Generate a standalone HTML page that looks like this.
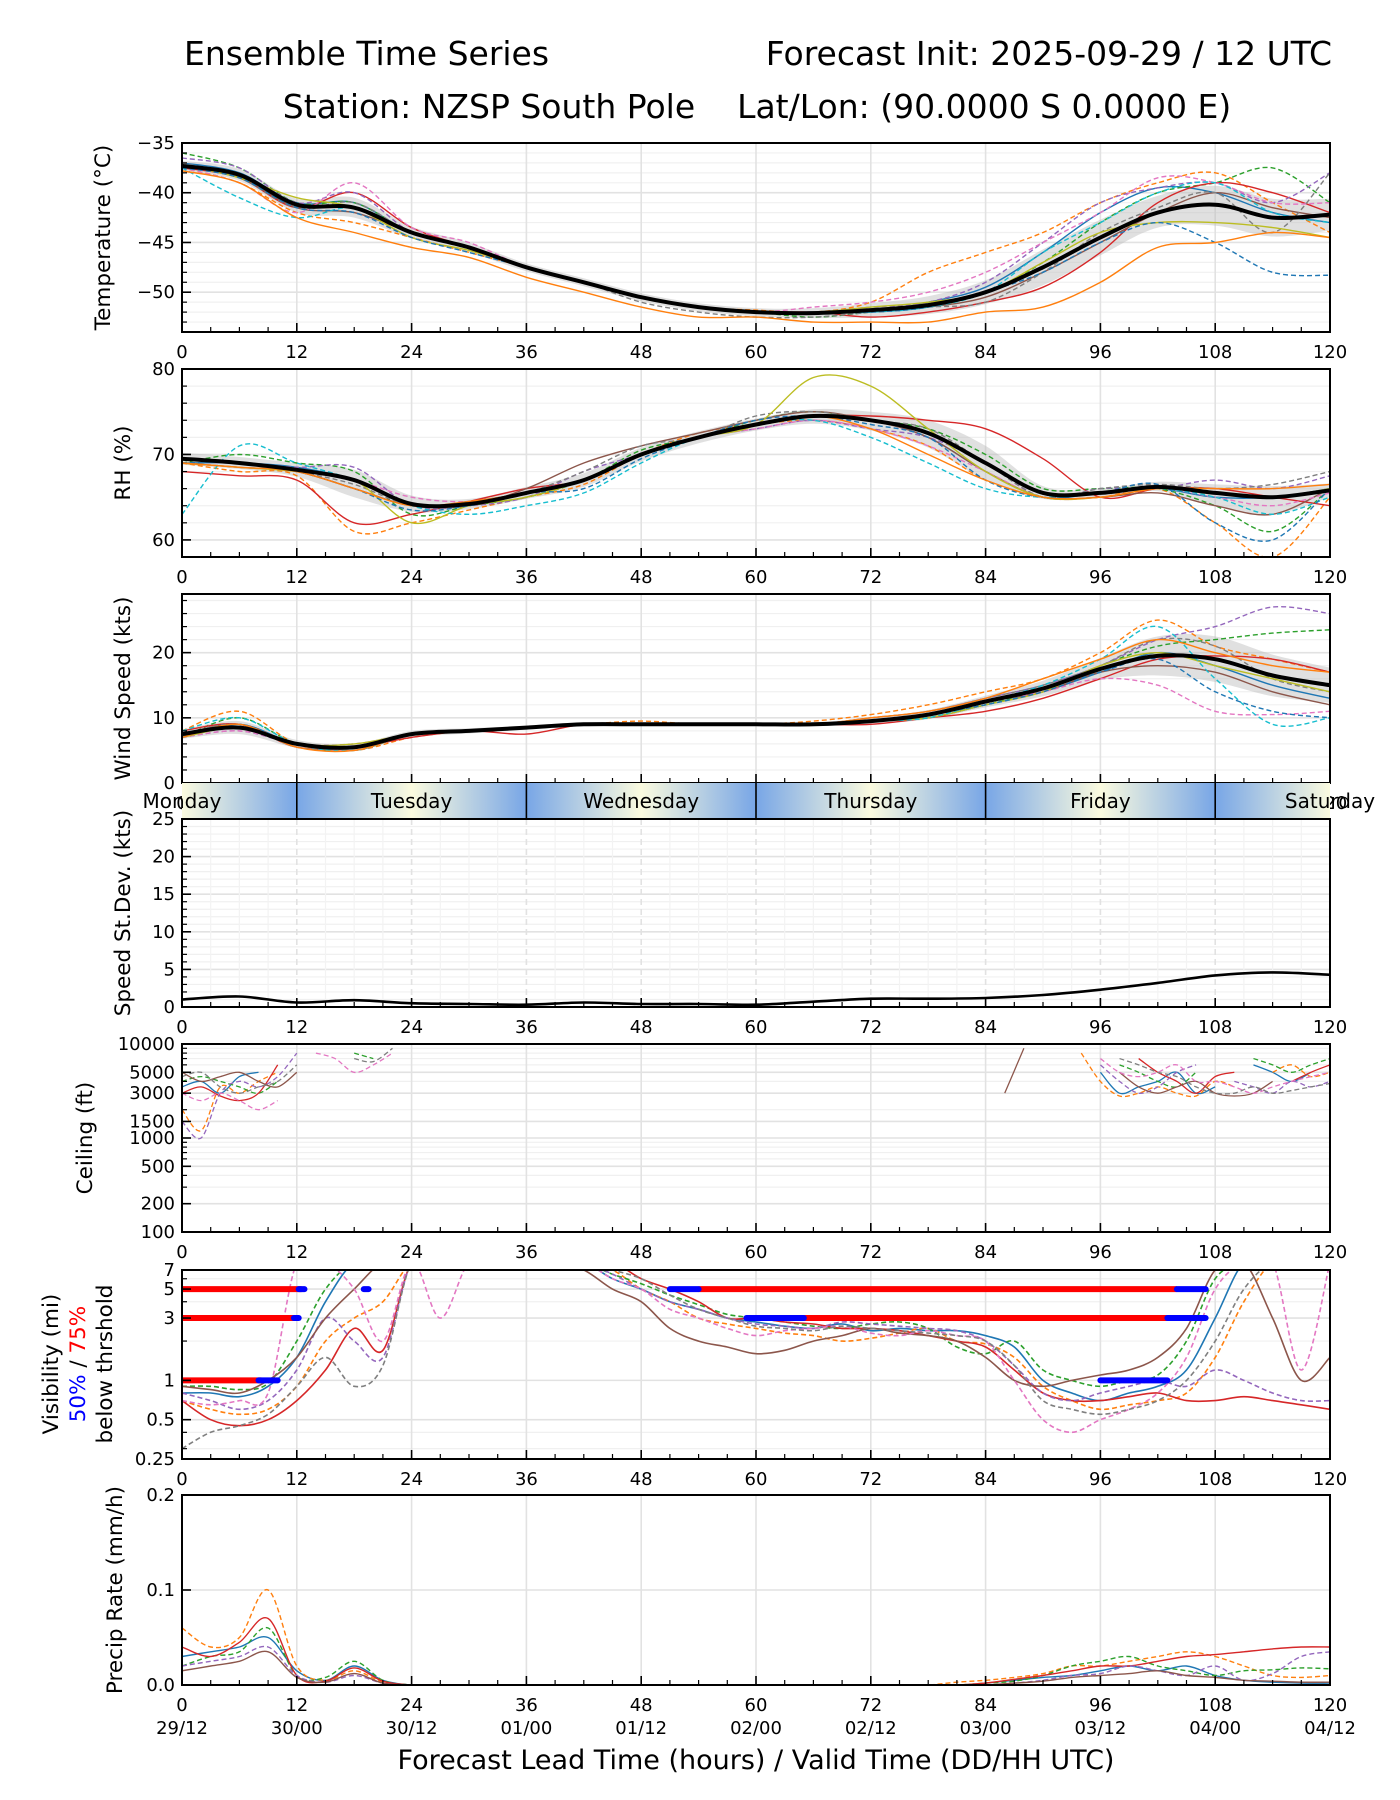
<!DOCTYPE html>
<html><head><meta charset="utf-8"><title>Ensemble Time Series</title>
<style>html,body{margin:0;padding:0;background:#fff}svg{display:block;font-family:"DejaVu Sans","Liberation Sans",sans-serif}</style>
</head><body>
<svg id="chart" xmlns="http://www.w3.org/2000/svg" width="1400" height="1800" viewBox="0 0 1400 1800">
<defs>
<linearGradient id="dayGrad" gradientUnits="userSpaceOnUse" x1="182" y1="0" x2="1330" y2="0">
<stop offset="0" stop-color="#fbfbdf"/><stop offset="0.1" stop-color="#78a6e6"/><stop offset="0.2" stop-color="#fbfbdf"/><stop offset="0.3" stop-color="#78a6e6"/><stop offset="0.4" stop-color="#fbfbdf"/><stop offset="0.5" stop-color="#78a6e6"/><stop offset="0.6" stop-color="#fbfbdf"/><stop offset="0.7" stop-color="#78a6e6"/><stop offset="0.8" stop-color="#fbfbdf"/><stop offset="0.9" stop-color="#78a6e6"/><stop offset="1" stop-color="#fbfbdf"/>
</linearGradient>
</defs>
<text x="184" y="65" font-size="33">Ensemble Time Series</text>
<text x="1332" y="65" font-size="33" text-anchor="end">Forecast Init: 2025-09-29 / 12 UTC</text>
<text x="757" y="118" font-size="33" text-anchor="middle" xml:space="preserve">Station: NZSP South Pole    Lat/Lon: (90.0000 S 0.0000 E)</text>
<g id="root"></g>
</svg>
<script>
// ---------- data ----------
const hours6 = [0,6,12,18,24,30,36,42,48,54,60,66,72,78,84,90,96,102,108,114,120];
const hours3 = [0,3,6,9,12,15,18,21,24,27,30,33,36,39,42,45,48,51,54,57,60,63,66,69,72,75,78,81,84,87,90,93,96,99,102,105,108,111,114,117,120];
const xTicks = [0,12,24,36,48,60,72,84,96,108,120];
const dateLabels = ["29/12","30/00","30/12","01/00","01/12","02/00","02/12","03/00","03/12","04/00","04/12"];
const dayNames = ["Monday","Tuesday","Wednesday","Thursday","Friday","Saturday"];
const dayCenters = [0,24,48,72,96,120];
const colors = ["#1f77b4","#ff7f0e","#2ca02c","#d62728","#9467bd","#8c564b","#e377c2","#7f7f7f","#bcbd22","#17becf","#1f77b4","#ff7f0e"];
const dashed = [false,true,true,false,true,false,true,true,false,true,true,false];

const tempMean = [-37.3,-38.2,-41.2,-41.5,-44,-45.5,-47.5,-49,-50.5,-51.5,-52,-52.1,-51.8,-51.3,-50,-47.5,-44.5,-42,-41.2,-42.5,-42.2];
const tempLo = [-37.8,-38.8,-42,-42.5,-44.6,-46,-47.9,-49.4,-50.9,-51.9,-52.4,-52.6,-52.5,-52.2,-51.2,-49.3,-46.3,-43.5,-43.3,-44.4,-43.8];
const tempHi = [-36.8,-37.6,-40.6,-40.5,-43.4,-45,-47.1,-48.6,-50.1,-51.1,-51.6,-51.6,-51.1,-50.4,-48.8,-45.7,-42.7,-40.3,-39.3,-40.6,-40.6];
const tempMembers = [
[-37,-38,-41,-41,-44,-45.5,-47.5,-49,-50.5,-51.5,-52,-52,-52,-51,-49.5,-46,-42,-39.5,-40,-42,-43],
[-37.5,-39,-42,-43,-44.5,-46,-47.5,-49,-50.5,-51.5,-51.8,-52,-51,-48,-46,-44,-41,-39,-38,-41,-44],
[-36,-37.5,-41,-41,-44,-45.5,-47.5,-49,-50.5,-51.5,-52,-52.5,-52,-51.5,-50,-47,-43,-40,-39,-37.5,-41],
[-37.5,-38.5,-41.5,-40,-43.5,-45.5,-47.5,-49,-50.5,-51.5,-52,-52,-52.5,-52,-51,-49.5,-46,-41,-39,-40,-42],
[-36.5,-37.5,-41,-40,-44,-45.5,-47.5,-49,-50.5,-51.5,-52,-52,-51.5,-51,-49,-45,-41,-39.5,-39,-41,-38],
[-37.3,-38.5,-41.5,-42,-44,-45.5,-47.5,-49,-50.5,-51.5,-52,-52,-52,-51.5,-50.5,-48,-45,-42,-40,-41.5,-42.5],
[-37.5,-39,-42,-39,-43.5,-45,-47.5,-49,-50.5,-51.5,-52,-51.5,-51,-50,-48,-45,-42,-38.5,-39,-41,-41],
[-37,-38.5,-41.5,-41,-44,-45.5,-47.5,-49,-51,-52,-52.5,-52.5,-52,-51.5,-51,-48,-44,-41.5,-40,-44,-38],
[-37.2,-38.5,-40.5,-41.5,-44.5,-45.8,-47.5,-49,-50.5,-51.5,-52,-52,-51.5,-51,-50,-47,-44,-43,-43,-43.5,-44.5],
[-37.5,-40.5,-42.5,-41.5,-44,-45.5,-47.5,-49,-50.5,-51.5,-52,-52,-52,-51.5,-50,-46,-43,-40,-39,-42,-43],
[-37.5,-38.5,-41.5,-42,-44.5,-46,-47.5,-49,-50.5,-51.5,-52,-52,-52,-51.5,-50,-48,-45,-43,-45,-48,-48.3],
[-37.8,-39,-42.5,-44,-45.5,-46.5,-48.5,-50,-51.5,-52.5,-52.5,-53,-53,-53,-52,-51.5,-49,-45.5,-45,-44,-44.5]
];

const rhMean = [69.5,69,68.2,67,64.2,64.2,65.5,67,70,72,73.5,74.5,74,72.5,69,65.5,65.5,66.2,65.5,65,65.8];
const rhLo = [68.8,68.3,67.4,65,63.3,63.6,64.8,66.2,69.2,71.3,72.8,73.6,72.8,70.8,67,64.8,65,65.7,64,63,65];
const rhHi = [70.2,69.7,69,68.2,65.2,64.8,66.2,67.8,70.8,72.7,74.2,75.3,75,74,71,66.3,66,66.8,66.5,66.3,66.6];
const rhMembers = [
[69,69,68.5,67,64,64.5,65.5,67,70,72,73.5,74.5,74,72,68,65,65.5,66,65,65,66],
[69,68,67.5,61,62,63.5,65,66.5,70,72.5,73.5,74,73,71,67,65,65,66,62,58,65],
[69,70,69,68,63,64,65,67,70.5,72,74,75,74,73,70,66,66,66,64,61,66],
[68,67.5,67,62,63,64.5,66,67,70,72,73.5,74.5,74.5,74,73,69.5,65,66,66,65,64],
[69,69,68.5,68.5,64,64,65,68,70,72,73,74,73,72,69,65,66,66,67,66,67.5],
[69,68.5,68,66,64,64,66,69,71,72.5,74,75,74,72,68,65,65,65.5,64,63,66],
[69,68.5,68,67,65,64.5,65.5,67,70,72,73,74,73,71,68,65,65,66,65,64,65.5],
[69,69,68,66.5,64,64,65.5,68,71,72,74.5,75,74,73,69,65,66,66.5,66,66.5,68],
[69,68.5,68,67,62,64,65,67,70,72,73.5,79,78,73,68,65,65,66,65.5,65,66],
[63,71,69,67,64,63,64,65.5,69,72,73.5,74,72,69,66,65,65.5,66,65,63,65],
[69,69,68,66,63.5,64,65.5,66,69.5,72,74,74.5,73.5,72,67,65,65.5,66.5,62,60,66],
[69,68.5,68,66,64,64.5,65.5,67,70,72,73.5,74.5,73,70,67,65,65,66,66,66,66.5]
];

const windMean = [7.5,8.5,6,5.5,7.5,8,8.5,9,9,9,9,9,9.5,10.5,12.5,14.5,17.5,19.5,19,16.5,15];
const windLo = [6.8,7.5,5.4,5,7,7.6,8.2,8.7,8.8,8.8,8.8,8.7,9,9.8,11.6,13.3,15.8,16.5,15.5,13.3,12.3];
const windHi = [8.2,9.5,6.6,6,8,8.4,8.8,9.3,9.2,9.2,9.2,9.3,10,11.2,13.4,15.7,19.2,22.5,22.5,19.7,17.7];
const windMembers = [
[7,9,6,5.5,7.5,8,8.5,9,9,9,9,9,9.5,10,12,14,17,20,18,15,13],
[8,11,6,5,7,8,8.5,9,9.5,9,9,9.5,10.5,12,14,16,20,25,21,19,17],
[7,10,6,5,7.5,8,8.5,9,9,9,9,9,9.5,10.5,12,14.5,18,21,22,23,23.5],
[8,9,5.5,5.5,7,8,7.5,9,9,9,9,9,9,10,11,13,16,19,19.5,19,17],
[7,8,6,6,7.5,8,8.5,9,9,9,9,9,10,11,13,15,18,22,24,27,26],
[7.5,9,6,5.5,7.5,8,8.5,9,9,9,9,9,9.5,10.5,12.5,14,17,18,17,14,12],
[7,8,6,5,7.5,8,8.5,9,9,9,9,9,9.5,10.5,12.5,14,16,15,11,10.5,11],
[7.5,9,5.5,5.5,7.5,8,8.5,9,9,9,9,9,10,11,13,15,18,22,21,16,14],
[7,8.5,6,6,7.5,8,8.5,9,9,9,9,9,9.5,10,12,14,18,20,18,16,14],
[8,10,6,5,7.5,8,8.5,9,9,9,9,9,9.5,10,12.5,15,19,24,16,9,10],
[7,9,6,5.5,7.5,8,8.5,9,9,9,9,9,9.5,10.5,12,14,17,19,14,11,10],
[7,9,5.5,5,7.5,8,8.5,9,9,9,9,9,10,11,13,16,19,22,20,18,17]
];

const sdValues = [1,1.4,0.6,0.9,0.5,0.4,0.3,0.6,0.4,0.4,0.3,0.7,1.1,1.1,1.2,1.6,2.3,3.2,4.2,4.6,4.3];

const ceilHours = [0,2,4,6,8,10,12,14,16,18,20,22,24,86,88,90,92,94,96,98,100,102,104,106,108,110,112,114,116,118,120];
const ceilMembers = [
[3500,4000,3000,4500,5000,null,null,null,null,null,null,null,null, null,null,null,null,null,5000,3000,3500,4000,5000,3000,3500,null,6000,5000,4000,5000,null],
[2000,1200,3500,3000,4000,5000,null,null,null,null,null,null,null, null,null,null,null,8000,4000,2800,3000,3500,3000,2800,4000,3500,null,5000,6000,4500,5000],
[4000,4500,4000,3500,3000,4000,null,null,null,8000,7000,null,null, null,null,null,null,null,null,6000,5000,4000,3500,5000,null,null,7000,6000,5000,6000,7000],
[3000,3500,2800,2500,3000,6000,null,null,null,null,6000,null,null, null,null,null,null,null,null,null,7000,5000,4000,3000,4500,5000,null,null,4000,5000,6000],
[1500,1000,3000,4000,3500,4500,8000,null,null,null,null,null,null, null,null,null,null,null,6000,4000,3000,3500,5000,6000,null,4000,3500,3000,4000,3500,4000],
[5000,4000,4500,5000,4000,3500,5000,null,null,null,null,null,null, 3000,9000,null,null,null,null,5000,3500,3000,3500,4000,3000,2800,3000,4000,null,null,3500],
[3000,2500,3000,2500,2000,2500,null,8000,7000,5000,6000,8000,null, null,null,null,null,null,7000,5000,4500,5000,6000,4000,4000,3500,3000,3500,4000,4500,5000],
[4500,5000,3500,3000,3500,4000,6000,null,null,7000,6500,9000,null, null,null,null,null,null,null,7000,6000,5000,4500,3500,3000,3000,3500,3000,3200,3500,3800]
];

const visMembers = [
[0.8,0.8,0.75,0.9,1.5,4,8,8,8,8,8,8,8,8,8,6,5,4,3.5,3,2.8,2.6,2.5,2.7,2.4,2.5,2.4,2.4,2.2,1.8,1,0.8,0.7,0.8,0.9,1.2,3,8,8,8,8],
[0.7,0.6,0.55,0.6,0.9,2,3,4,8,8,8,8,8,8,8,7,5,4,3,2.7,2.5,2.3,2.2,2,2.1,2.3,2.5,2,1.9,1.5,0.9,0.7,0.6,0.65,0.7,0.8,1.5,4,8,8,8],
[0.9,0.9,0.85,0.95,2,5,8,8,8,8,8,8,8,8,8,6.5,5.5,4.5,3.8,3.2,3,2.8,2.6,2.5,2.7,2.8,2.5,1.8,1.6,2,1.2,1,0.9,1,1.1,2,6,8,8,8,8],
[0.7,0.5,0.45,0.5,0.7,1.2,2.5,1.7,8,8,8,8,8,8,8,8,6,5,4,3,3,2.8,2.7,2.5,2.5,2.4,2.2,2,1.8,1.2,0.8,0.7,0.7,0.75,0.8,0.7,0.7,0.75,0.7,0.65,0.6],
[0.8,0.7,0.6,0.7,1.2,3,2,1.5,8,8,8,8,8,8,8,6.5,5,4,3.5,3,2.7,2.6,2.5,2.8,2.7,2.6,2.5,2.4,2,1.3,0.8,0.7,0.8,0.9,1,0.9,1.2,1,0.8,0.7,0.7],
[0.9,0.85,0.8,1,1.5,3,5,8,8,8,8,8,8,8,7,5,4,2.5,2,1.8,1.6,1.7,2,2.2,2.5,2.3,2.2,2,1.5,1,0.9,1,1.1,1.2,1.5,2.5,7,8,3,1,1.5],
[0.7,0.65,0.7,0.8,8,8,5,2,8,3,8,8,8,8,8,6,5,3.5,3,2.5,2.2,2.4,2.5,2.6,2.3,2.2,2.4,2.2,2,1,0.5,0.4,0.5,0.6,0.8,1.5,5,8,8,1.2,8],
[0.3,0.4,0.45,0.55,0.9,1.5,0.9,1.3,8,8,8,8,8,8,8,7,6,4.5,3.5,3,2.6,2.5,2.4,2.6,2.5,2.4,2.3,2.2,2,1.3,0.7,0.6,0.55,0.6,0.7,1,2,5,8,8,8]
];
// threshold bars: [threshold, startHour, endHour]
const visRedBars = [[5,0,12.5],[3,0,12],[1,0,8.3],[5,54,104],[3,65,103]];
const visBlueBars = [[5,12.2,12.8],[3,11.7,12.2],[1,8,10],[5,19,19.5],[5,51,54],[3,59,65],[5,104,107],[3,103,107],[1,96,103]];

const precipMembers = [
[0.03,0.035,0.04,0.05,0.015,0.005,0.02,0.005,0,0,0,0,0,0,0,0,0,0,0,0,0,0,0,0,0,0,0,0,0.002,0.005,0.008,0.01,0.015,0.02,0.015,0.02,0.01,0.005,0.003,0.002,0.002],
[0.06,0.04,0.05,0.1,0.02,0.005,0.015,0.003,0,0,0,0,0,0,0,0,0,0,0,0,0,0,0,0,0,0,0,0.003,0.005,0.008,0.012,0.02,0.02,0.025,0.03,0.035,0.03,0.02,0.01,0.008,0.01],
[0.02,0.03,0.035,0.06,0.01,0.008,0.025,0.005,0,0,0,0,0,0,0,0,0,0,0,0,0,0,0,0,0,0,0,0,0.002,0.004,0.01,0.02,0.025,0.03,0.02,0.015,0.01,0.015,0.016,0.018,0.017],
[0.04,0.03,0.045,0.07,0.01,0.004,0.018,0.004,0,0,0,0,0,0,0,0,0,0,0,0,0,0,0,0,0,0,0,0,0.002,0.006,0.01,0.015,0.02,0.02,0.025,0.03,0.032,0.035,0.038,0.04,0.04],
[0.02,0.025,0.03,0.04,0.01,0.003,0.01,0.002,0,0,0,0,0,0,0,0,0,0,0,0,0,0,0,0,0,0,0,0,0,0.002,0.005,0.01,0.012,0.02,0.015,0.01,0.02,0.005,0.012,0.03,0.035],
[0.015,0.02,0.025,0.035,0.008,0.003,0.012,0.002,0,0,0,0,0,0,0,0,0,0,0,0,0,0,0,0,0,0,0,0,0,0.002,0.004,0.008,0.01,0.012,0.015,0.01,0.008,0.005,0.004,0.003,0.003]
];

// ---------- helpers ----------
const NS = "http://www.w3.org/2000/svg";
const root = document.getElementById("root");
const X0 = 182, X1 = 1330;
const TICK_FS = 18, LABEL_FS = 21.5;
function xS(h){ return X0 + (h/120)*(X1-X0); }
function mk(tag, attrs, parent){
  const e = document.createElementNS(NS, tag);
  for (const k in attrs) e.setAttribute(k, attrs[k]);
  (parent||root).appendChild(e);
  return e;
}
function linY(lo,hi,top,bot){ return v => bot - (v-lo)/(hi-lo)*(bot-top); }
function logY(lo,hi,top,bot){ return v => bot - (Math.log(v)-Math.log(lo))/(Math.log(hi)-Math.log(lo))*(bot-top); }
function smoothPath(xs, ys, yf){
  let d = "", seg = [];
  const flush = () => {
    if (seg.length === 1) d += `M${seg[0][0]},${seg[0][1]}`;
    else if (seg.length > 1){
      d += `M${seg[0][0]},${seg[0][1]}`;
      for (let i=0;i<seg.length-1;i++){
        const p0=seg[Math.max(0,i-1)], p1=seg[i], p2=seg[i+1], p3=seg[Math.min(seg.length-1,i+2)];
        const c1x=p1[0]+(p2[0]-p0[0])/6, c1y=p1[1]+(p2[1]-p0[1])/6;
        const c2x=p2[0]-(p3[0]-p1[0])/6, c2y=p2[1]-(p3[1]-p1[1])/6;
        d += `C${c1x.toFixed(1)},${c1y.toFixed(1)} ${c2x.toFixed(1)},${c2y.toFixed(1)} ${p2[0].toFixed(1)},${p2[1].toFixed(1)}`;
      }
    }
    seg = [];
  };
  for (let i=0;i<xs.length;i++){
    if (ys[i]===null || ys[i]===undefined){ flush(); continue; }
    if (i>0 && seg.length && xs[i]-xs[i-1] > 6){ flush(); }
    seg.push([xS(xs[i]), yf(ys[i])]);
  }
  flush();
  return d;
}
let clipN = 0;
function panel(name, top, bot, yf, majors, minors, labels, ylabel, opts){
  opts = opts||{};
  const g = mk("g", {});
  
  
  minors.forEach(v => { const y=yf(v); mk("line",{x1:X0,x2:X1,y1:y,y2:y,stroke:"#f0f0f0","stroke-width":1.2},g); });
  majors.forEach(v => { const y=yf(v); mk("line",{x1:X0,x2:X1,y1:y,y2:y,stroke:"#e2e2e2","stroke-width":1.6},g); });
  for (let h=3; h<120; h+=3){ if (h%12) { if(opts.minorV) mk("line",{x1:xS(h),x2:xS(h),y1:top,y2:bot,stroke:"#f3f3f3","stroke-width":1.2},g);} }
  xTicks.forEach(h => mk("line",{x1:xS(h),x2:xS(h),y1:top,y2:bot,stroke:"#e2e2e2","stroke-width":1.6,"stroke-dasharray":opts.dashV?"6,4":"none"},g));
  const id = "clip"+(clipN++);
  const cp = mk("clipPath",{id:id},g);
  mk("rect",{x:X0,y:top,width:X1-X0,height:bot-top},cp);
  const plot = mk("g",{"clip-path":`url(#${id})`},g);
  
  
  majors.forEach((v,i) => {
    const y=yf(v);
    mk("line",{x1:X0,x2:X0+9,y1:y,y2:y,stroke:"#000","stroke-width":1.6},g);
    const t = mk("text",{x:X0-7,y:y+6,"font-size":TICK_FS,"text-anchor":"end"},g);
    t.textContent = labels[i];
    
    
  });
  minors.forEach(v => { const y=yf(v); mk("line",{x1:X0,x2:X0+5,y1:y,y2:y,stroke:"#000","stroke-width":1.2},g); });
  for (let h=0; h<=120; h+=3){
    const len = h%12===0 ? 9 : 5;
    mk("line",{x1:xS(h),x2:xS(h),y1:bot,y2:bot-len,stroke:"#000","stroke-width":h%12===0?1.6:1.2},g);
  }
  xTicks.forEach(h => {
    const t = mk("text",{x:xS(h),y:bot+26,"font-size":TICK_FS,"text-anchor":"middle"},g);
    t.textContent = String(h);
    
    
  });
  const fr = mk("rect",{x:X0,y:top,width:X1-X0,height:bot-top,fill:"none",stroke:"#000","stroke-width":2},g);
  if (ylabel){
    const cy=(top+bot)/2, lx = opts.lx||110;
    const t = mk("text",{x:lx,y:cy,"font-size":LABEL_FS,"text-anchor":"middle",transform:`rotate(-90 ${lx} ${cy})`},g);
    t.textContent = ylabel;
    
    
  }
  g.appendChild(fr);
  return plot;
}
function drawMembers(plot, name, xs, members, yf, w){
  members.forEach((m,i) => {
    const p = mk("path",{d:smoothPath(xs,m,yf),fill:"none",stroke:colors[i%colors.length],"stroke-width":w||1.4,"stroke-dasharray":dashed[i%dashed.length]?"5,3":"none"},plot);
    
    
  });
}
function drawBand(plot, name, xs, lo, hi, yf){
  const a = smoothPath(xs,hi,yf);
  const revX = xs.slice().reverse(), revLo = lo.slice().reverse();
  const b = smoothPath(revX,revLo,yf).replace(/^M/,"L");
  const p = mk("path",{d:a+b+"Z",fill:"#bbbbbb","fill-opacity":0.45,stroke:"none"},plot);
  
  
}
function drawMean(plot, name, xs, vals, yf, w){
  const p = mk("path",{d:smoothPath(xs,vals,yf),fill:"none",stroke:"#000","stroke-width":w||4},plot);
  
  
}

// ---------- Temperature ----------
{
  const yf = linY(-54,-35,143,332);
  const minors=[]; for(let v=-54; v<=-35; v++) if (v%5) minors.push(v);
  const p = panel("temperature",143,332,yf,[-35,-40,-45,-50],minors,["\u221235","\u221240","\u221245","\u221250"],"Temperature (\u00b0C)",{lx:110});
  drawBand(p,"temperature",hours6,tempLo,tempHi,yf);
  drawMembers(p,"temperature",hours6,tempMembers,yf);
  drawMean(p,"temperature",hours6,tempMean,yf);
}
// ---------- RH ----------
{
  const yf = linY(58,80,369,557);
  const minors=[]; for(let v=58; v<80; v+=2) if (v%10) minors.push(v);
  const p = panel("rh",369,557,yf,[60,70,80],minors,["60","70","80"],"RH (%)",{lx:130});
  drawBand(p,"rh",hours6,rhLo,rhHi,yf);
  drawMembers(p,"rh",hours6,rhMembers,yf);
  drawMean(p,"rh",hours6,rhMean,yf);
}
// ---------- Wind ----------
{
  const yf = linY(0,29,594,783);
  const minors=[]; for(let v=2; v<29; v+=2) if (v%10) minors.push(v);
  const p = panel("wind",594,783,yf,[0,10,20],minors,["0","10","20"],"Wind Speed (kts)",{lx:130});
  drawBand(p,"wind",hours6,windLo,windHi,yf);
  drawMembers(p,"wind",hours6,windMembers,yf);
  drawMean(p,"wind",hours6,windMean,yf);
}
// ---------- Day band ----------
{
  const g = mk("g",{});
  
  
  mk("rect",{x:X0,y:783,width:X1-X0,height:36,fill:"url(#dayGrad)"},g);
  [12,36,60,84,108].forEach(h => mk("line",{x1:xS(h),x2:xS(h),y1:783,y2:819,stroke:"#000","stroke-width":1.6},g));
  dayNames.forEach((n,i) => {
    const t = mk("text",{x:xS(dayCenters[i]),y:808,"font-size":20,"text-anchor":"middle"},g);
    t.textContent = n;
    
    
  });
}
// ---------- Std Dev ----------
{
  const yf = linY(0,25,819,1007);
  const minors=[]; for(let v=1; v<25; v++) if (v%5) minors.push(v);
  const p = panel("speed-stdev",819,1007,yf,[0,5,10,15,20,25],minors,["0","5","10","15","20","25"],"Speed St.Dev. (kts)",{lx:130,dashV:true,minorV:true});
  drawMean(p,"speed-stdev",hours6,sdValues,yf,2.6);
}
// ---------- Ceiling ----------
{
  const yf = logY(100,10000,1044,1232);
  const minors=[300,400,600,700,800,900,2000,4000,6000,7000,8000,9000];
  const p = panel("ceiling",1044,1232,yf,[100,200,500,1000,1500,3000,5000,10000],minors,["100","200","500","1000","1500","3000","5000","10000"],"Ceiling (ft)",{lx:92});
  drawMembers(p,"ceiling",ceilHours,ceilMembers,yf,1.3);
}
// ---------- Visibility ----------
{
  const yf = logY(0.25,7,1270,1459);
  const p = panel("visibility",1270,1459,yf,[0.25,0.5,1,3,5,7],[0.3,0.4,2,4,6],["0.25","0.5","1","3","5","7"],null);
  drawMembers(p,"visibility",hours3,visMembers,yf,1.6);
  visRedBars.forEach(b => {
    const l = mk("line",{x1:xS(b[1]),x2:xS(b[2]),y1:yf(b[0]),y2:yf(b[0]),stroke:"#ff0000","stroke-width":6},p);
    
    
  });
  visBlueBars.forEach(b => {
    const l = mk("line",{x1:xS(b[1]),x2:xS(b[2]),y1:yf(b[0]),y2:yf(b[0]),stroke:"#0000ff","stroke-width":6,"stroke-linecap":"round"},p);
    
    
  });
  const cy = 1364;
  const t1 = mk("text",{x:58,y:cy,"font-size":LABEL_FS,"text-anchor":"middle",transform:`rotate(-90 58 ${cy})`});
  t1.textContent = "Visibility (mi)";
  
  
  const t2 = mk("text",{x:85,y:cy,"font-size":LABEL_FS,"text-anchor":"middle",transform:`rotate(-90 85 ${cy})`});
  t2.innerHTML = '<tspan fill="#0000ff">50%</tspan><tspan fill="#000"> / </tspan><tspan fill="#ff0000">75%</tspan>';
  
  
  const t3 = mk("text",{x:112,y:cy,"font-size":LABEL_FS,"text-anchor":"middle",transform:`rotate(-90 112 ${cy})`});
  t3.textContent = "below thrshold";
  
  
}
// ---------- Precip ----------
{
  const yf = linY(0,0.2,1495,1685);
  const p = panel("precip",1495,1685,yf,[0,0.1,0.2],[],["0.0","0.1","0.2"],"Precip Rate (mm/h)",{lx:122});
  drawMembers(p,"precip",hours3,precipMembers,yf,1.4);
  xTicks.forEach((h,i) => {
    const t = mk("text",{x:xS(h),y:1734,"font-size":TICK_FS,"text-anchor":"middle"});
    t.textContent = dateLabels[i];
    
    
  });
  const xt = mk("text",{x:756,y:1769,"font-size":27,"text-anchor":"middle"});
  xt.textContent = "Forecast Lead Time (hours) / Valid Time (DD/HH UTC)";
  
  
}
</script>
</body></html>
